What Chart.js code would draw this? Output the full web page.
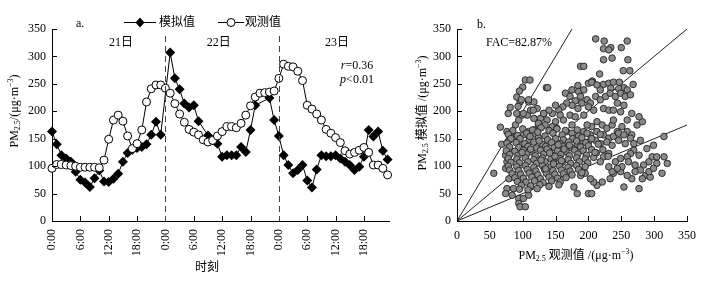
<!DOCTYPE html>
<html><head><meta charset="utf-8">
<script src="https://cdn.jsdelivr.net/npm/chart.js@4.4.0/dist/chart.umd.min.js"></script>
<style>
html,body{margin:0;padding:0;background:#fff;}
#wrap{position:relative;width:714px;height:283px;overflow:hidden;background:#fff;}
canvas{position:absolute;top:0;}
</style></head><body>
<div id="wrap">
<canvas id="ca" width="410" height="283" style="left:0"></canvas>
<canvas id="cb" width="304" height="283" style="left:410px"></canvas>
</div>
<script>
// ---------- data ----------
const dayLabels = ['21日', '22日', '23日'];
const timeTickLabels = ['0:00', '6:00', '12:00', '18:00'];
const hourTicks = [0, 6, 12, 18, 24, 30, 36, 42, 48, 54, 60, 66];
const valueTicks = [0, 50, 100, 150, 200, 250, 300, 350];

// hourly PM2.5, 21日 0:00 -> 23日 23:00 (null = no marker shown)
const simulated = [
  163, 140, 120, 114, 108, 90, 75, 70, 62, 78, 92, 72, 71, 77, 86, 108, 124, 130, 133, 135, 140, 157, 181, 157,
  null, 307, 260, 240, 214, 207, 211, 182, null, 156, 147, 141, 117, 120, 120, 120, 135, 126, 166, 211, null, null, 224, 184,
  155, 120, 102, 87, 93, 102, 74, 61, 94, 120, 118, 118, 120, 114, 108, 102, 93, 99, 117, 166, 154, 163, 128, 112
];
const observed = [
  96, 103, 103, 102, 101, 100, 98, 98, 98, 98, 97, 111, 149, 184, 193, 182, 155, 132, 141, 166, 217, 241, 248, 248,
  242, 233, 214, 195, 180, 167, 162, 157, 148, 144, 147, 155, 163, 172, 172, 170, 178, 193, 210, 226, 233, 234, 235, 237,
  260, 286, 282, 281, 273, 256, 211, 204, 195, 184, 167, 160, 152, 143, 128, 122, 125, 129, 134, 125, 102, 102, 96, 84
];
const statR = '0.36';
const statP = '0.01';
const facText = 'FAC=82.87%';

// scatter: [observed, simulated]
const scatterPoints = [
  [211,332],[224,328],[234,316],[223,314],[231,312],[250,316],[259,328],[223,294],[236,297],[260,294],[188,282],[193,282],[253,274],[263,274],[217,268],[206,255],[104,257],[111,257],[100,244],[136,243],[138,243],
  [200,251],[205,253],[213,248],[223,249],[231,251],[238,253],[247,253],[254,243],[268,249],[184,247],[175,239],[185,236],[193,239],[218,239],[234,242],[246,241],[259,239],
  [165,233],[172,227],[180,219],[188,227],[190,215],[184,205],[175,211],[167,215],[161,208],[155,202],[198,221],[203,215],[211,227],[218,221],[226,227],[233,233],[241,227],[249,233],[256,227],[264,230],[244,215],[254,211],[223,205],[231,202],[238,202],[249,199],[208,202],[200,208],
  [150,211],[145,196],[157,193],[140,202],[132,196],[127,187],[137,184],[150,181],[162,184],[172,193],[180,190],[193,193],[134,175],[145,172],[152,169],
  [213,181],[221,175],[228,169],[236,175],[244,163],[251,172],[259,163],[266,157],[274,175],[282,181],[277,190],[266,196],[259,184],[238,184],[223,157],[231,151],[238,154],[246,160],[254,157],[213,163],[205,172],[198,175],[203,157],[193,163],[183,166],[175,175],[167,163],[190,147],[200,144],[211,147],[218,141],[228,144],[236,138],[246,147],[256,141],[264,151],[269,141],
  [299,138],[315,154],[279,147],[289,132],[297,117],[304,105],[315,117],[320,105],[312,87],[292,108],[284,102],[277,120],[269,129],[264,123],[259,117],[261,108],[271,102],[279,93],[287,83],[294,80],[277,59],[254,62],[266,77],[259,83],[249,90],[251,99],[244,96],[238,87],[233,77],[236,90],[231,99],[241,108],[249,114],[231,123],[223,117],[218,108],[221,71],[213,65],[208,71],[200,50],[205,50],[183,50],[203,77],[195,87],[188,83],[178,62],[282,77],[292,90],[299,96],[304,117],[271,90],
  [66,171],[56,87],[68,140],[81,160],[89,175],[94,184],[99,193],[91,196],[107,193],[112,202],[109,217],[96,217],[117,217],[122,205],[76,163],[79,147],[86,151],[94,147],[101,157],[109,163],[117,166],[124,175],[81,126],[74,120],[76,108],[74,96],[79,77],[76,59],[74,50],[86,59],[84,47],[94,41],[94,32],[96,26],[104,26],[101,41],[109,47],
  [91,226],[95,237],[98,221],[101,196],[93,209],[109,221],[116,202],[117,187],[124,178],[132,196],[78,196],[81,207],
  [85,165],[100,168],[115,166],[128,170],[140,165],[152,168],[165,165],
  [78,158],[92,156],[106,160],[120,158],[134,155],[146,160],[160,157],[175,160],[185,155],
  [82,150],[96,150],[110,148],[124,152],[138,148],[150,150],[162,148],[176,150],[190,152],
  [76,142],[90,143],[103,141],[117,144],[130,140],[144,143],[157,141],[170,144],[183,140],[196,143],
  [80,135],[94,134],[108,136],[121,133],[135,136],[148,134],[161,136],[175,133],[188,135],[200,137],
  [75,128],[88,127],[101,129],[114,126],[127,129],[140,127],[153,128],[166,126],[179,129],[192,128],[205,130],
  [80,121],[93,120],[106,122],[119,119],[132,122],[145,120],[158,121],[171,119],[184,122],[197,120],[212,124],
  [78,114],[91,113],[104,115],[117,112],[130,115],[143,113],[156,114],[169,112],[182,115],[195,113],[208,116],
  [82,107],[95,106],[108,108],[121,105],[134,108],[147,106],[160,107],[173,105],[186,108],[199,106],
  [78,100],[91,99],[104,101],[117,98],[130,101],[143,99],[156,100],[169,98],[182,101],[195,99],
  [80,93],[94,92],[107,94],[120,91],[133,94],[146,92],[159,93],[172,91],[185,94],
  [84,86],[97,85],[110,87],[123,84],[136,87],[149,85],[162,86],[175,84],[190,88],
  [88,79],[101,78],[114,80],[127,77],[140,80],[153,78],[166,79],
  [92,72],[105,71],[118,73],[131,70],[144,73],[157,71],
  [98,65],[112,64],[126,66],[140,63],[155,66],
  [95,58],[108,57],[122,59],
  [125,146],[137,131],[149,118],[128,111],[141,124],[154,139],[163,131],[112,131],[99,125],[135,95],[147,104],[159,110],[171,138],[182,146],[111,154],[123,162],[205,150],[215,140],[210,125],[222,130],[230,118],[198,160],[218,158]
];
const refSlopes = [2, 1, 0.5];

// ---------- helpers ----------
const FAM = '"Liberation Serif", "Noto Sans CJK SC", serif';
function fnt(sz, style) { return (style ? style + ' ' : '') + sz + 'px ' + FAM; }
function drawRich(ctx, parts, cx, cy, rot) {
  ctx.save();
  ctx.translate(cx, cy);
  if (rot) ctx.rotate(rot);
  let w = 0;
  parts.forEach(p => { ctx.font = fnt(p.s || 12, p.i ? 'italic' : ''); p.w = ctx.measureText(p.t).width; w += p.w; });
  let x = -w / 2;
  ctx.textBaseline = 'middle'; ctx.textAlign = 'left'; ctx.fillStyle = '#000';
  parts.forEach(p => { ctx.font = fnt(p.s || 12, p.i ? 'italic' : ''); ctx.fillText(p.t, x, p.dy || 0); x += p.w; });
  ctx.restore();
}
function drawText(ctx, t, x, y, align, sz) {
  ctx.save(); ctx.font = fnt(sz || 12); ctx.fillStyle = '#000';
  ctx.textAlign = align || 'center'; ctx.textBaseline = 'middle';
  ctx.fillText(t, x, y); ctx.restore();
}

const innerTicks = {
  id: 'innerTicks',
  afterDraw(chart) {
    const { ctx, chartArea: a, scales: { x, y } } = chart;
    ctx.save(); ctx.strokeStyle = '#000'; ctx.lineWidth = 1; ctx.beginPath();
    y.ticks.forEach(t => { const py = Math.round(y.getPixelForValue(t.value)) + 0.5; ctx.moveTo(a.left, py); ctx.lineTo(a.left + 5, py); });
    x.ticks.forEach(t => { const px = Math.round(x.getPixelForValue(t.value)) + 0.5; ctx.moveTo(px, a.bottom); ctx.lineTo(px, a.bottom - 5); });
    ctx.stroke(); ctx.restore();
  }
};

const leftDecor = {
  id: 'leftDecor',
  afterDraw(chart) {
    const { ctx, chartArea: a, scales: { x } } = chart;
    ctx.save(); ctx.strokeStyle = '#444'; ctx.lineWidth = 1; ctx.setLineDash([6, 4]);
    [24, 48].forEach(h => { const px = Math.round(x.getPixelForValue(h)) + 0.5; ctx.beginPath(); ctx.moveTo(px, 36); ctx.lineTo(px, a.bottom); ctx.stroke(); });
    ctx.restore();
    [14.6, 35.3, 60.3].forEach((h, i) => drawText(ctx, dayLabels[i], x.getPixelForValue(h), 43, 'center', 12));
    drawText(ctx, 'a.', 76, 24, 'left', 12);
    ctx.save(); ctx.strokeStyle = '#000'; ctx.fillStyle = '#000'; ctx.lineWidth = 1;
    ctx.beginPath(); ctx.moveTo(124, 22.5); ctx.lineTo(156, 22.5); ctx.stroke();
    ctx.beginPath(); ctx.moveTo(140, 17.5); ctx.lineTo(144.5, 22.5); ctx.lineTo(140, 27.5); ctx.lineTo(135.5, 22.5); ctx.closePath(); ctx.fill();
    ctx.beginPath(); ctx.moveTo(218, 22.5); ctx.lineTo(244, 22.5); ctx.stroke();
    ctx.beginPath(); ctx.arc(231, 22.5, 4, 0, Math.PI * 2); ctx.fillStyle = '#fff'; ctx.fill(); ctx.stroke();
    ctx.restore();
    drawText(ctx, '模拟值', 159, 22.5, 'left', 12);
    drawText(ctx, '观测值', 245, 22.5, 'left', 12);
    drawRich(ctx, [{ t: 'r', i: true }, { t: '=' + statR }], 357, 66, 0);
    drawRich(ctx, [{ t: 'p', i: true }, { t: '<' + statP }], 357, 80, 0);
    drawRich(ctx, [{ t: 'PM' }, { t: '2.5', s: 8, dy: 3 }, { t: '/(μg·m' }, { t: '−3', s: 8, dy: -4 }, { t: ')' }], 15, 111, -Math.PI / 2);
    drawText(ctx, '时刻', 207, 268, 'center', 12);
  }
};

const rightDecor = {
  id: 'rightDecor',
  afterDraw(chart) {
    const { ctx } = chart;
    drawText(ctx, 'b.', 67, 25, 'left', 12);
    drawText(ctx, facText, 109, 43, 'center', 12);
    drawRich(ctx, [{ t: 'PM' }, { t: '2.5', s: 8, dy: 3 }, { t: ' 模拟值 /(μg·m' }, { t: '−3', s: 8, dy: -4 }, { t: ')' }], 13, 113, -Math.PI / 2);
    drawRich(ctx, [{ t: 'PM' }, { t: '2.5', s: 8, dy: 3 }, { t: ' 观测值 /(μg·m' }, { t: '−3', s: 8, dy: -4 }, { t: ')' }], 166, 256, 0);
  }
};

const tickFont = { family: FAM, size: 12 };
const axisBase = {
  grid: { display: true, drawOnChartArea: false, drawTicks: false },
  border: { display: true, color: '#000', width: 1 }
};

// ---------- left: time series ----------
new Chart(document.getElementById('ca'), {
  type: 'line',
  data: {
    datasets: [
      {
        label: '观测值', order: 0, clip: false, spanGaps: true,
        data: observed.map((v, i) => ({ x: i, y: v })),
        borderColor: '#000', borderWidth: 1, tension: 0,
        pointStyle: 'circle', pointRadius: 4, pointBackgroundColor: '#fff', pointBorderColor: '#000', pointBorderWidth: 1
      },
      {
        label: '模拟值', order: 1, clip: false, spanGaps: true,
        data: simulated.map((v, i) => ({ x: i, y: v })),
        borderColor: '#000', borderWidth: 1, tension: 0,
        pointStyle: 'rectRot', pointRadius: 5, pointBackgroundColor: '#000', pointBorderColor: '#000', pointBorderWidth: 0
      }
    ]
  },
  options: {
    responsive: false, animation: false, devicePixelRatio: 1,
    layout: { padding: { top: 29, right: 21, left: 0, bottom: 0 } },
    plugins: { legend: { display: false }, tooltip: { enabled: false } },
    scales: {
      x: Object.assign({}, axisBase, {
        type: 'linear', min: 0, max: 71.3,
        afterBuildTicks(s) { s.ticks = hourTicks.map(v => ({ value: v })); },
        afterFit(s) { s.height = 62; },
        ticks: { autoSkip: false, minRotation: 90, maxRotation: 90, padding: 8, font: tickFont, color: '#000',
          callback: v => timeTickLabels[(v / 6) % 4] }
      }),
      y: Object.assign({}, axisBase, {
        min: 0, max: 350,
        afterBuildTicks(s) { s.ticks = valueTicks.map(v => ({ value: v })); },
        afterFit(s) { s.width = 52; },
        ticks: { padding: 6, font: tickFont, color: '#000' }
      })
    }
  },
  plugins: [innerTicks, leftDecor]
});

// ---------- right: scatter ----------
new Chart(document.getElementById('cb'), {
  type: 'scatter',
  data: {
    datasets: [
      {
        label: 'pts', order: 0,
        data: scatterPoints.map(p => ({ x: p[0], y: p[1] })),
        pointRadius: 3.3, backgroundColor: '#8a8a8a', borderColor: '#222', borderWidth: 0.9
      }
    ].concat(refSlopes.map((s, i) => ({
      type: 'line', label: 'ref' + i, order: 1,
      data: [{ x: 0, y: 0 }, { x: Math.min(350, 350 / s), y: Math.min(350, 350 * s) }],
      borderColor: '#222', borderWidth: 1, pointRadius: 0, tension: 0
    })))
  },
  options: {
    responsive: false, animation: false, devicePixelRatio: 1,
    layout: { padding: { top: 29, right: 27, left: 0, bottom: 0 } },
    plugins: { legend: { display: false }, tooltip: { enabled: false } },
    scales: {
      x: Object.assign({}, axisBase, {
        type: 'linear', min: 0, max: 350,
        afterBuildTicks(s) { s.ticks = valueTicks.map(v => ({ value: v })); },
        afterFit(s) { s.height = 62; },
        ticks: { maxRotation: 0, minRotation: 0, padding: 8, font: tickFont, color: '#000' }
      }),
      y: Object.assign({}, axisBase, {
        type: 'linear', min: 0, max: 350,
        afterBuildTicks(s) { s.ticks = valueTicks.map(v => ({ value: v })); },
        afterFit(s) { s.width = 47; },
        ticks: { padding: 6, font: tickFont, color: '#000' }
      })
    }
  },
  plugins: [innerTicks, rightDecor]
});
</script>
</body></html>
